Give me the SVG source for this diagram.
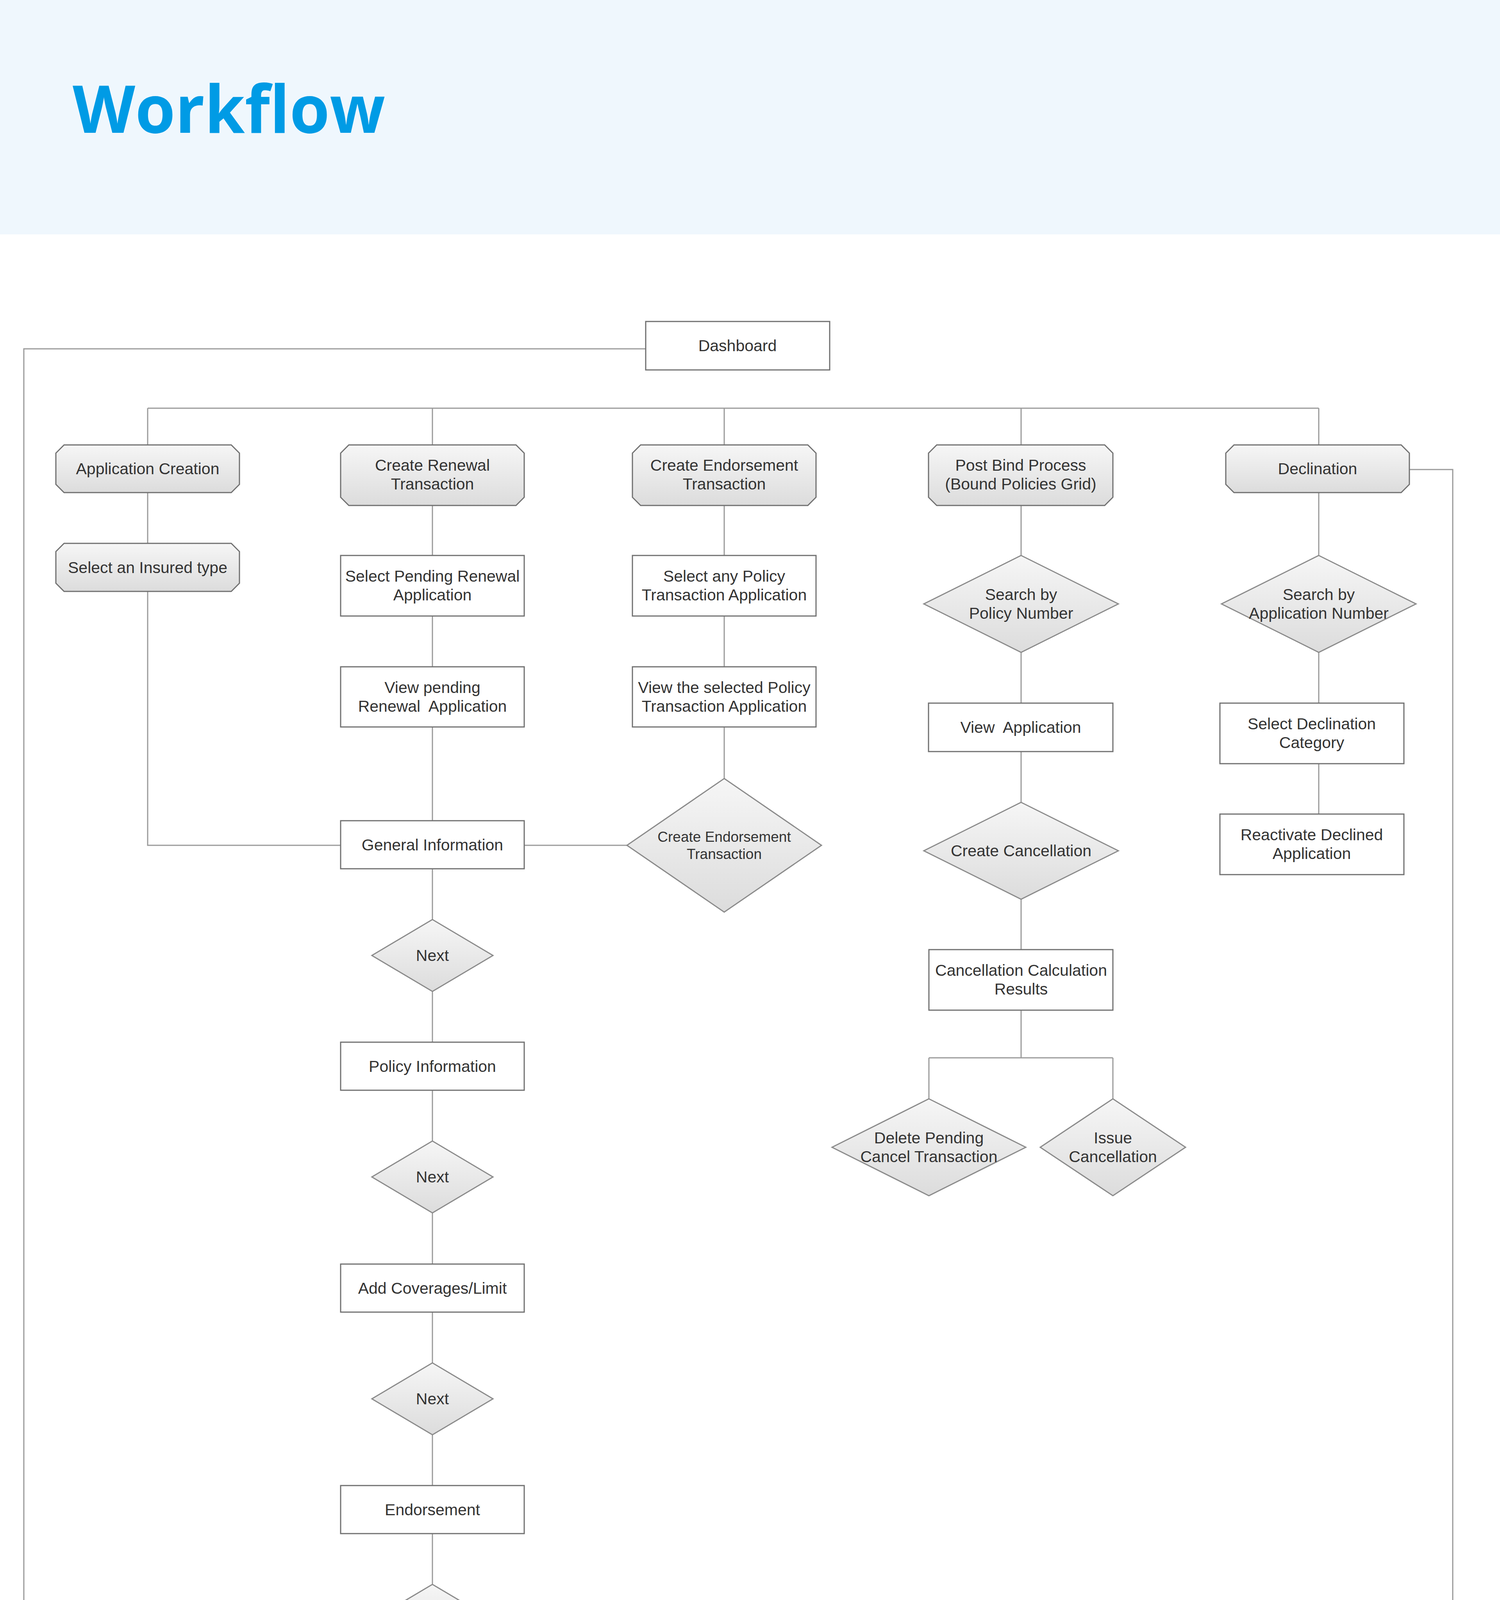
<svg xmlns="http://www.w3.org/2000/svg" width="3840" height="6725" viewBox="0 0 3840 6725">
<style>
.conn{fill:none;stroke:#9a9a9a;stroke-width:3}
.box{fill:#fff;stroke:#707070;stroke-width:3}
.oct{fill:url(#g);stroke:#707070;stroke-width:3}
.dia{fill:url(#g);stroke:#8a8a8a;stroke-width:3}
.t{font-family:"Liberation Sans",Arial,sans-serif;font-size:41px;fill:#333;text-anchor:middle}
.s{font-size:37px}
.title{font-family:"Open Sans","Noto Sans",sans-serif;font-weight:700;font-size:168px;fill:#009be5}
</style>
<defs>
<linearGradient id="g" x1="0" y1="0" x2="0" y2="1">
<stop offset="0" stop-color="#f6f6f6"/>
<stop offset="1" stop-color="#dcdcdc"/>
</linearGradient>
</defs>
<rect x="0" y="0" width="3840" height="6725" fill="#fff"/>
<rect x="0" y="0" width="3840" height="600" fill="#eff7fd"/>
<text class="title" x="186" y="340" textLength="800" lengthAdjust="spacingAndGlyphs">Workflow</text>

<g id="connectors">
<path class="conn" d="M1653,893 H61 V6553 H2320 V6440 M1705,6440 V6553"/>
<path class="conn" d="M378,1045 H3376"/>
<path class="conn" d="M378,1045 V1139 M378,1261 V1391 M378,1514 V2164 H872"/>
<path class="conn" d="M1107,1045 V1139 M1107,1294 V1422 M1107,1577 V1707 M1107,1861 V2101 M1107,2224 V5506 M1107,5629 V5757"/>
<path class="conn" d="M1342,2164 H1605"/>
<path class="conn" d="M1854,1045 V1139 M1854,1294 V1422 M1854,1577 V1707 M1854,1861 V1993"/>
<path class="conn" d="M2614,1045 V1139 M2614,1294 V1422 M2614,1670 V1800 M2614,1924 V2054 M2614,2302 V2431 M2614,2586 V2708 M2378,2708 H2849 M2378,2708 V2813 M2849,2708 V2813"/>
<path class="conn" d="M3376,1045 V1139 M3376,1261 V1422 M3376,1670 V1800 M3376,1955 V2084"/>
<path class="conn" d="M3608,1202 H3719 V6551 H2931 V6440"/>
<path class="conn" d="M872,5567 H127 V6300 H220"/>
<path class="conn" d="M1106,5943 V6160 M438,6046 H2931 M438,6046 V6160 M1705,6046 V6160 M2320,6046 V6160 M2931,6046 V6160"/>
</g>

<g id="dashboard">
<rect class="box" x="1653" y="823" width="471" height="124"/>
<text class="t" x="1888" y="899">Dashboard</text>
</g>

<g id="application-creation">
<path class="oct" d="M164,1139 H592 L613,1160 V1240 L592,1261 H164 L143,1240 V1160 Z"/>
<text class="t" x="378" y="1214">Application Creation</text>
</g>
<g id="select-insured-type">
<path class="oct" d="M164,1391 H592 L613,1412 V1493 L592,1514 H164 L143,1493 V1412 Z"/>
<text class="t" x="378" y="1467">Select an Insured type</text>
</g>

<g id="create-renewal">
<path class="oct" d="M893,1139 H1321 L1342,1160 V1273 L1321,1294 H893 L872,1273 V1160 Z"/>
<text class="t" x="1107" y="1205">Create Renewal</text>
<text class="t" x="1107" y="1253">Transaction</text>
</g>
<g id="select-pending-renewal">
<rect class="box" x="872" y="1422" width="470" height="155"/>
<text class="t" x="1107" y="1489">Select Pending Renewal</text>
<text class="t" x="1107" y="1537">Application</text>
</g>
<g id="view-pending-renewal">
<rect class="box" x="872" y="1707" width="470" height="154"/>
<text class="t" x="1107" y="1774">View pending</text>
<text class="t" x="1107" y="1822" xml:space="preserve">Renewal  Application</text>
</g>

<g id="create-endorsement">
<path class="oct" d="M1640,1139 H2068 L2089,1160 V1273 L2068,1294 H1640 L1619,1273 V1160 Z"/>
<text class="t" x="1854" y="1205">Create Endorsement</text>
<text class="t" x="1854" y="1253">Transaction</text>
</g>
<g id="select-any-policy">
<rect class="box" x="1619" y="1422" width="470" height="155"/>
<text class="t" x="1854" y="1489">Select any Policy</text>
<text class="t" x="1854" y="1537">Transaction Application</text>
</g>
<g id="view-selected-policy">
<rect class="box" x="1619" y="1707" width="470" height="154"/>
<text class="t" x="1854" y="1774">View the selected Policy</text>
<text class="t" x="1854" y="1822">Transaction Application</text>
</g>
<g id="create-endorsement-decision">
<path class="dia" d="M1854,1993 L2103,2164 L1854,2335 L1605,2164 Z"/>
<text class="t s" x="1854" y="2155">Create Endorsement</text>
<text class="t s" x="1854" y="2199">Transaction</text>
</g>

<g id="post-bind">
<path class="oct" d="M2398,1139 H2828 L2849,1160 V1273 L2828,1294 H2398 L2377,1273 V1160 Z"/>
<text class="t" x="2613" y="1205">Post Bind Process</text>
<text class="t" x="2613" y="1253">(Bound Policies Grid)</text>
</g>
<g id="search-policy-number">
<path class="dia" d="M2614,1422 L2863,1546 L2614,1670 L2365,1546 Z"/>
<text class="t" x="2614" y="1536">Search by</text>
<text class="t" x="2614" y="1584">Policy Number</text>
</g>
<g id="view-application">
<rect class="box" x="2377" y="1800" width="472" height="124"/>
<text class="t" x="2613" y="1876" xml:space="preserve">View  Application</text>
</g>
<g id="create-cancellation">
<path class="dia" d="M2614,2054 L2863,2178 L2614,2302 L2365,2178 Z"/>
<text class="t" x="2614" y="2192">Create Cancellation</text>
</g>
<g id="cancellation-results">
<rect class="box" x="2378" y="2431" width="471" height="155"/>
<text class="t" x="2614" y="2498">Cancellation Calculation</text>
<text class="t" x="2614" y="2546">Results</text>
</g>
<g id="delete-pending-cancel">
<path class="dia" d="M2378,2813 L2626,2937 L2378,3061 L2130,2937 Z"/>
<text class="t" x="2378" y="2927">Delete Pending</text>
<text class="t" x="2378" y="2975">Cancel Transaction</text>
</g>
<g id="issue-cancellation">
<path class="dia" d="M2849,2813 L3035,2937 L2849,3061 L2663,2937 Z"/>
<text class="t" x="2849" y="2927">Issue</text>
<text class="t" x="2849" y="2975">Cancellation</text>
</g>

<g id="declination">
<path class="oct" d="M3159,1139 H3587 L3608,1160 V1240 L3587,1261 H3159 L3138,1240 V1160 Z"/>
<text class="t" x="3373" y="1214">Declination</text>
</g>
<g id="search-application-number">
<path class="dia" d="M3376,1422 L3625,1546 L3376,1670 L3127,1546 Z"/>
<text class="t" x="3376" y="1536">Search by</text>
<text class="t" x="3376" y="1584">Application Number</text>
</g>
<g id="select-declination-category">
<rect class="box" x="3123" y="1800" width="471" height="155"/>
<text class="t" x="3358" y="1867">Select Declination</text>
<text class="t" x="3358" y="1915">Category</text>
</g>
<g id="reactivate-declined">
<rect class="box" x="3123" y="2084" width="471" height="155"/>
<text class="t" x="3358" y="2151">Reactivate Declined</text>
<text class="t" x="3358" y="2199">Application</text>
</g>

<g id="general-information">
<rect class="box" x="872" y="2101" width="470" height="123"/>
<text class="t" x="1107" y="2177">General Information</text>
</g>
<g id="next-1">
<path class="dia" d="M1107,2354 L1262,2446 L1107,2538 L952,2446 Z"/>
<text class="t" x="1107" y="2460">Next</text>
</g>
<g id="policy-information">
<rect class="box" x="872" y="2668" width="470" height="123"/>
<text class="t" x="1107" y="2744">Policy Information</text>
</g>
<g id="next-2">
<path class="dia" d="M1107,2921 L1262,3013 L1107,3105 L952,3013 Z"/>
<text class="t" x="1107" y="3027">Next</text>
</g>
<g id="add-coverages">
<rect class="box" x="872" y="3236" width="470" height="123"/>
<text class="t" x="1107" y="3312">Add Coverages/Limit</text>
</g>
<g id="next-3">
<path class="dia" d="M1107,3489 L1262,3581 L1107,3673 L952,3581 Z"/>
<text class="t" x="1107" y="3595">Next</text>
</g>
<g id="endorsement">
<rect class="box" x="872" y="3803" width="470" height="123"/>
<text class="t" x="1107" y="3879">Endorsement</text>
</g>
<g id="next-4">
<path class="dia" d="M1107,4056 L1262,4148 L1107,4240 L952,4148 Z"/>
<text class="t" x="1107" y="4162">Next</text>
</g>
<g id="add-subjectivity-1">
<rect class="box" x="872" y="4371" width="470" height="123"/>
<text class="t" x="1107" y="4447">Add Subjectivity</text>
</g>
<g id="next-5">
<path class="dia" d="M1107,4624 L1262,4716 L1107,4808 L952,4716 Z"/>
<text class="t" x="1107" y="4730">Next</text>
</g>
<g id="add-subjectivity-2">
<rect class="box" x="872" y="4938" width="470" height="123"/>
<text class="t" x="1107" y="5014">Add Subjectivity</text>
</g>
<g id="next-6">
<path class="dia" d="M1107,5191 L1262,5283 L1107,5375 L952,5283 Z"/>
<text class="t" x="1107" y="5297">Next</text>
</g>
<g id="quote-summary">
<rect class="box" x="872" y="5506" width="470" height="123"/>
<text class="t" x="1107" y="5582">Quote Summary</text>
</g>
<g id="quote-actions">
<ellipse class="dia" cx="1106" cy="5850" rx="187" ry="93"/>
<text class="t" x="1106" y="5864">Quote Actions</text>
</g>

<g id="back">
<path class="dia" d="M438,6160 L656,6300 L438,6440 L220,6300 Z"/>
<text class="t" x="438" y="6314">Back</text>
</g>
<g id="download-quote">
<path class="dia" d="M1105,6160 L1323,6300 L1105,6440 L887,6300 Z"/>
<text class="t" x="1105" y="6314">Download Quote</text>
</g>
<g id="send-to-uw">
<path class="dia" d="M1705,6160 L1923,6300 L1705,6440 L1487,6300 Z"/>
<text class="t" x="1705" y="6314">Send to UW</text>
</g>
<g id="bind">
<path class="dia" d="M2320,6160 L2538,6300 L2320,6440 L2102,6300 Z"/>
<text class="t" x="2320" y="6314">Bind</text>
</g>
<g id="decline">
<path class="dia" d="M2931,6160 L3149,6300 L2931,6440 L2713,6300 Z"/>
<text class="t" x="2931" y="6314">Decline</text>
</g>
</svg>
